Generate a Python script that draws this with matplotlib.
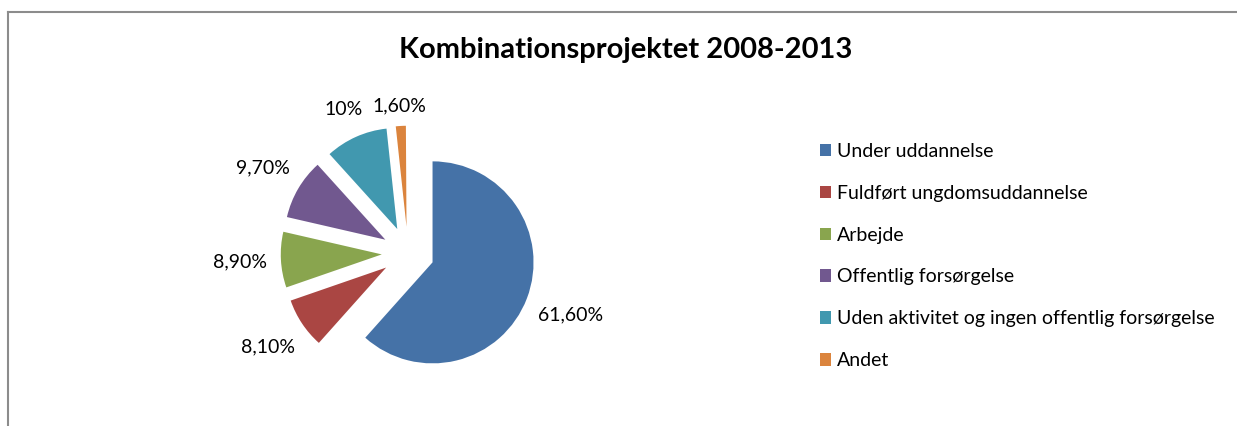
import numpy as np
import matplotlib
matplotlib.use("Agg")
import matplotlib.pyplot as plt
from matplotlib.lines import Line2D

plt.rcParams['font.family'] = ['Lato', 'DejaVu Sans']

# data (percent)
categories = ["Under uddannelse", "Fuldført ungdomsuddannelse", "Arbejde",
              "Offentlig forsørgelse", "Uden aktivitet og ingen offentlig forsørgelse",
              "Andet"]
values = [61.6, 8.1, 8.9, 9.7, 10.0, 1.6]
value_labels = ["61,60%", "8,10%", "8,90%", "9,70%", "10%", "1,60%"]
colors = ["#4572A7", "#AA4643", "#89A54E", "#71588F", "#4198AF", "#DB843D"]

# label distance from each (exploded) wedge tip, in radii
label_dist = [1.46, 1.41, 1.41, 1.40, 1.30, 1.20]

W, H = 1237, 426
fig = plt.figure(figsize=(W / 100, H / 100), dpi=100)

# pie axes: centre at (408, 253) px, radius 101 px
r_px = 101
cx, cy = 408, H - 253
xr, yr = 2.0, 1.7
ax = fig.add_axes([(cx - xr * r_px) / W, (cy - yr * r_px) / H,
                   2 * xr * r_px / W, 2 * yr * r_px / H])
# values sum to 99.9 %, keep the small gap like the original
fracs = [v / 100 for v in values]
wedges, _ = ax.pie(fracs, colors=colors, startangle=90, counterclock=False,
                   explode=[0.26] * len(values), radius=1.0,
                   wedgeprops=dict(linewidth=0), normalize=False)
ax.set_xlim(-xr, xr)
ax.set_ylim(-yr, yr)
ax.set_aspect("equal")
ax.axis("off")

for w, lab, d in zip(wedges, value_labels, label_dist):
    th = np.radians((w.theta1 + w.theta2) / 2)
    x = w.center[0] + d * w.r * np.cos(th)
    y = w.center[1] + d * w.r * np.sin(th)
    ax.text(x, y, lab, ha="center", va="center", fontsize=14, color="black")

fig.text(626 / W, 1 - 50 / H, "Kombinationsprojektet 2008-2013",
         ha="center", va="center", fontsize=21, fontweight="bold")

leg = fig.legend(wedges, categories, loc="upper left",
                 bbox_to_anchor=(812 / W, 1 - 135 / H), frameon=False,
                 fontsize=14, handlelength=0.6, handleheight=0.6,
                 handletextpad=0.3, labelspacing=1.28, borderaxespad=0)

# chart frame (top and left edges visible in the crop)
fig.add_artist(Line2D([8 / W, 1], [1 - 12 / H, 1 - 12 / H],
                      transform=fig.transFigure, color="#8c8c8c", lw=1.5))
fig.add_artist(Line2D([8 / W, 8 / W], [0, 1 - 12 / H],
                      transform=fig.transFigure, color="#8c8c8c", lw=1.5))

fig.savefig("out.png", dpi=100, facecolor="white")
